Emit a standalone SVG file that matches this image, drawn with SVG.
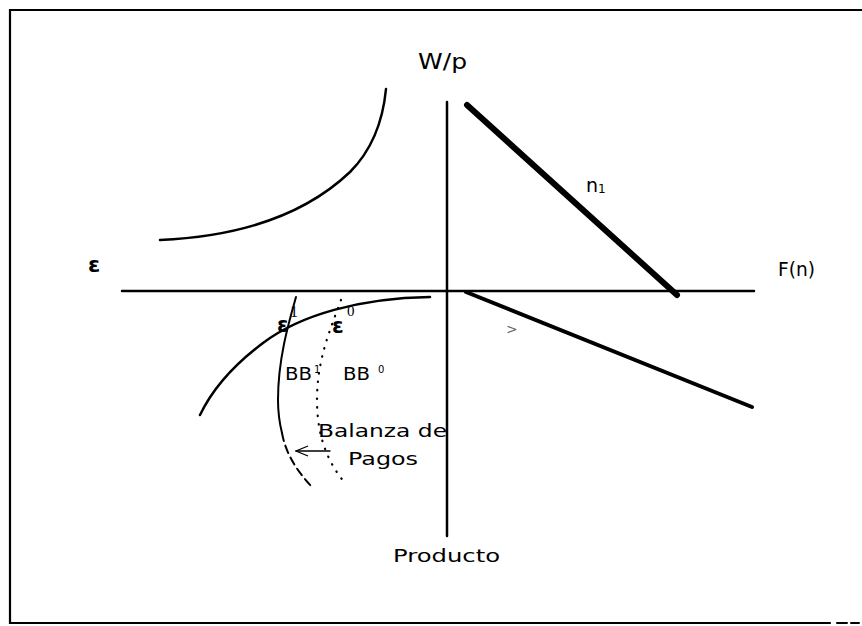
<svg xmlns="http://www.w3.org/2000/svg" width="862" height="626" viewBox="0 0 862 626">
<style>
.t{font-family:"DejaVu Sans","Noto Sans",sans-serif;fill:#000}
.e{font-family:"DejaVu Sans","Noto Sans",sans-serif;fill:#000;font-weight:bold}
.s{font-family:"Liberation Serif",serif;fill:#000}
.ln{fill:none;stroke:#000;stroke-linecap:round}
</style>
<defs>
<marker id="open" markerWidth="14" markerHeight="12" refX="13" refY="6" orient="auto" markerUnits="userSpaceOnUse">
<path d="M1,1 L13,6 L1,11" fill="none" stroke="#000" stroke-width="1.3"/>
</marker>
</defs>
<rect width="862" height="626" fill="#fff"/>
<g id="frame">
<path class="ln" d="M862,10 H10 V623 H830" stroke-width="2.2" stroke-linecap="butt"/>
<path class="ln" d="M837,623 H847 M851,623 H859" stroke-width="2" stroke-linecap="butt"/>
</g>
<g id="connectors">
<line class="ln" x1="122" y1="291" x2="754" y2="291" stroke-width="2.5" stroke-linecap="butt"/>
<line class="ln" x1="447" y1="102" x2="447" y2="536" stroke-width="2.5" stroke-linecap="butt"/>
<line class="ln" x1="467" y1="105" x2="677" y2="295" stroke-width="6"/>
<line class="ln" x1="466" y1="292" x2="752" y2="407" stroke-width="4"/>
<path class="ln" d="M160,240 C250,236 310,210 350,172 C372,150 383,120 386,89" stroke-width="2.5"/>
<path class="ln" d="M430,297 C360,298 300,315 263,343 C235,364 212,390 200,415" stroke-width="2.5"/>
<path class="ln" d="M296,297 C288,325 278,360 278,400 C278,415 280,425 282,433" stroke-width="2"/>
<path class="ln" d="M282,433 C286,455 298,472 312,487" stroke-width="2" stroke-dasharray="8 5" stroke-linecap="butt"/>
<path class="ln" d="M341,300 C330,330 317,360 317,400 C317,440 330,465 345,483" stroke-width="2.2" stroke-dasharray="0.5 8"/>
<line class="ln" x1="330" y1="451" x2="296" y2="451" stroke-width="1.3" marker-end="url(#open)"/>
</g>
<g id="label-wp"><text class="t" x="418" y="69" font-size="21" textLength="49" lengthAdjust="spacingAndGlyphs">W/p</text></g>
<g id="label-eps"><text class="e" x="88" y="272" font-size="22">ε</text></g>
<g id="label-fn"><text class="t" x="778" y="276" font-size="19" textLength="37" lengthAdjust="spacingAndGlyphs">F(n)</text></g>
<g id="label-n1"><text class="t" x="586" y="192" font-size="19">n<tspan font-size="12" dy="1">1</tspan></text></g>
<g id="label-y"><text class="t" x="506" y="334" font-size="14" style="fill:#666">&gt;</text></g>
<g id="label-e1"><text class="e" x="277" y="332" font-size="21">ε</text><text class="s" x="290" y="317" font-size="16">1</text></g>
<g id="label-e0"><text class="e" x="332" y="333" font-size="21">ε</text><text class="s" x="347" y="316" font-size="15">0</text></g>
<g id="label-bb1"><text class="t" x="285" y="380" font-size="17" textLength="27" lengthAdjust="spacingAndGlyphs">BB</text><text class="t" x="314" y="373" font-size="10">1</text></g>
<g id="label-bb0"><text class="t" x="343" y="380" font-size="17" textLength="27" lengthAdjust="spacingAndGlyphs">BB</text><text class="t" x="378" y="373" font-size="10">0</text></g>
<g id="label-bp"><text class="t" x="318" y="437" font-size="18" textLength="129" lengthAdjust="spacingAndGlyphs">Balanza de</text><text class="t" x="348" y="465" font-size="18" textLength="70" lengthAdjust="spacingAndGlyphs">Pagos</text></g>
<g id="label-prod"><text class="t" x="393" y="562" font-size="18" textLength="107" lengthAdjust="spacingAndGlyphs">Producto</text></g>
</svg>
